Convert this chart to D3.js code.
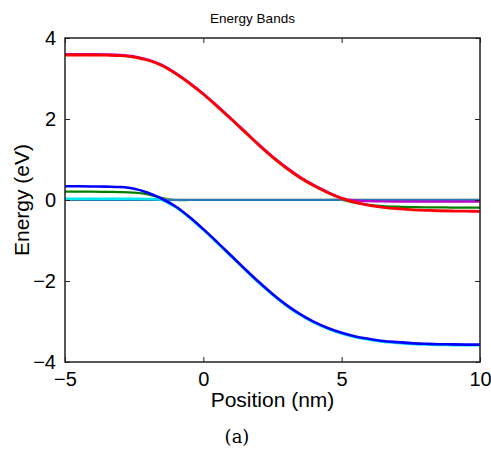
<!DOCTYPE html>
<html><head><meta charset="utf-8">
<script src="https://cdn.jsdelivr.net/npm/d3@7/dist/d3.min.js"></script>
<style>body{margin:0;background:#fff}svg{display:block}</style>
</head><body>
<svg id="c" width="491" height="452"></svg>
<script>
const positions = [-5,-4.5,-4,-3.5,-3,-2.5,-2,-1.5,-1,-0.5,0,0.5,1,1.5,2,2.5,3,3.5,4,4.5,5,5.5,6,6.5,7,7.5,8,8.5,9,9.5,10];
const ecBand   = [3.58,3.58,3.58,3.575,3.565,3.53,3.45,3.32,3.12,2.88,2.61,2.31,2.00,1.68,1.36,1.06,0.79,0.55,0.35,0.18,0.04,-0.06,-0.13,-0.18,-0.215,-0.24,-0.255,-0.265,-0.272,-0.277,-0.28];
const magentaBand = [3.60,3.60,3.60,3.595,3.585,3.55,3.47,3.34,3.14,2.90,2.63,2.33,2.02,1.70,1.38,1.08,0.81,0.57,0.37,0.20,0.05,-0.015,-0.03,-0.037,-0.04,-0.04,-0.04,-0.04,-0.04,-0.04,-0.04];
const evBand   = [0.34,0.34,0.335,0.33,0.32,0.28,0.18,0.03,-0.16,-0.42,-0.72,-1.04,-1.37,-1.70,-2.02,-2.32,-2.59,-2.82,-3.01,-3.16,-3.28,-3.37,-3.43,-3.48,-3.51,-3.535,-3.55,-3.56,-3.565,-3.57,-3.57];
const cyanBand = [0.03,0.03,0.03,0.03,0.03,0.03,0.025,0.0,-0.18,-0.44,-0.74,-1.06,-1.39,-1.72,-2.04,-2.34,-2.61,-2.84,-3.03,-3.18,-3.30,-3.39,-3.45,-3.50,-3.53,-3.555,-3.57,-3.58,-3.585,-3.59,-3.59];
const greenBand = [0.205,0.205,0.205,0.2,0.195,0.18,0.14,0.05,0,0,0,0,0,0,0,0,0,0,0,0,0,-0.07,-0.12,-0.15,-0.165,-0.175,-0.18,-0.183,-0.186,-0.188,-0.19];
const fermiLevel = [0,0,0,0,0,0,0,0,0,0,0,0,0,0,0,0,0,0,0,0,0,0,0,0,0,0,0,0,0,0,0];
const grayLevel = [0.025,0.025,0.025,0.025,0.025,0.025,0.025,0.025,0.025,0.025,0.025,0.025,0.025,0.025,0.025,0.025,0.025,0.025,0.025,0.025,0.025,0.025,0.025,0.025,0.025,0.025,0.025,0.025,0.025,0.025,0.025];
const xTicks = [-5,0,5,10];
const yTicks = [-4,-2,0,2,4];

const svg = d3.select("#c");
const L=65,R=480,T=38,B=362;
const x = d3.scaleLinear().domain([-5,10]).range([L,R]);
const y = d3.scaleLinear().domain([-4,4]).range([B,T]);

const series = [
  {v: greenBand, c:"#008000", w:2.2},
  {v: grayLevel, c:"#a0a0a0", w:1.2},
  {v: fermiLevel, c:"#2a7ab8", w:2},
  {v: cyanBand, c:"#00e8f0", w:2.4},
  {v: evBand, c:"#0000ff", w:2.6},
  {v: magentaBand, c:"#c000c8", w:2.2},
  {v: ecBand, c:"#ff0000", w:2.8}
];
const line = d3.line().x((d,i)=>x(positions[i])).y(d=>y(d)).curve(d3.curveCatmullRom.alpha(0.5));
const g = svg.append("g");
g.append("clipPath").attr("id","cp").append("rect").attr("x",L).attr("y",T).attr("width",R-L).attr("height",B-T);
const pg = g.append("g").attr("clip-path","url(#cp)");
series.forEach(s=>{
  pg.append("path").attr("d",line(s.v)).attr("fill","none").attr("stroke",s.c).attr("stroke-width",s.w).attr("stroke-linejoin","round");
});

const font = "'Liberation Sans', Arial, Helvetica, sans-serif";
const ax = g.append("g").attr("transform",`translate(0,${B})`).call(d3.axisBottom(x).tickValues(xTicks).tickSize(-5).tickPadding(9).tickFormat(d=>d<0?"\u2212"+(-d):d));
const axT = g.append("g").attr("transform",`translate(0,${T})`).call(d3.axisTop(x).tickValues(xTicks).tickSize(-5).tickFormat(""));
const ay = g.append("g").attr("transform",`translate(${L},0)`).call(d3.axisLeft(y).tickValues(yTicks).tickSize(-5).tickPadding(9).tickFormat(d=>d<0?"\u2212"+(-d):d));
const ayR = g.append("g").attr("transform",`translate(${R},0)`).call(d3.axisRight(y).tickValues(yTicks).tickSize(-5).tickFormat(""));
[ax,axT,ay,ayR].forEach(a=>{
  a.select(".domain").remove();
  a.selectAll(".tick line").attr("stroke","#222").attr("stroke-width",1);
  a.selectAll("text").attr("font-family",font).attr("font-size",20).attr("fill","#000");
});
ax.selectAll("text").attr("dy","0.75em");
g.append("rect").attr("x",L).attr("y",T).attr("width",R-L).attr("height",B-T).attr("fill","none").attr("stroke","#222").attr("stroke-width",1.5);

svg.append("text").attr("x",(L+R)/2-20).attr("y",23).attr("text-anchor","middle").attr("font-family",font).attr("font-size",13.5).text("Energy Bands");
svg.append("text").attr("x",(L+R)/2).attr("y",407).attr("text-anchor","middle").attr("font-family",font).attr("font-size",21).text("Position (nm)");
svg.append("text").attr("transform",`translate(29,${(T+B)/2}) rotate(-90)`).attr("text-anchor","middle").attr("font-family",font).attr("font-size",21).text("Energy (eV)");
svg.append("text").attr("x",237).attr("y",443).attr("text-anchor","middle").attr("font-family","'DejaVu Serif','Liberation Serif',serif").attr("font-size",18).text("(a)");
</script>
</body></html>
